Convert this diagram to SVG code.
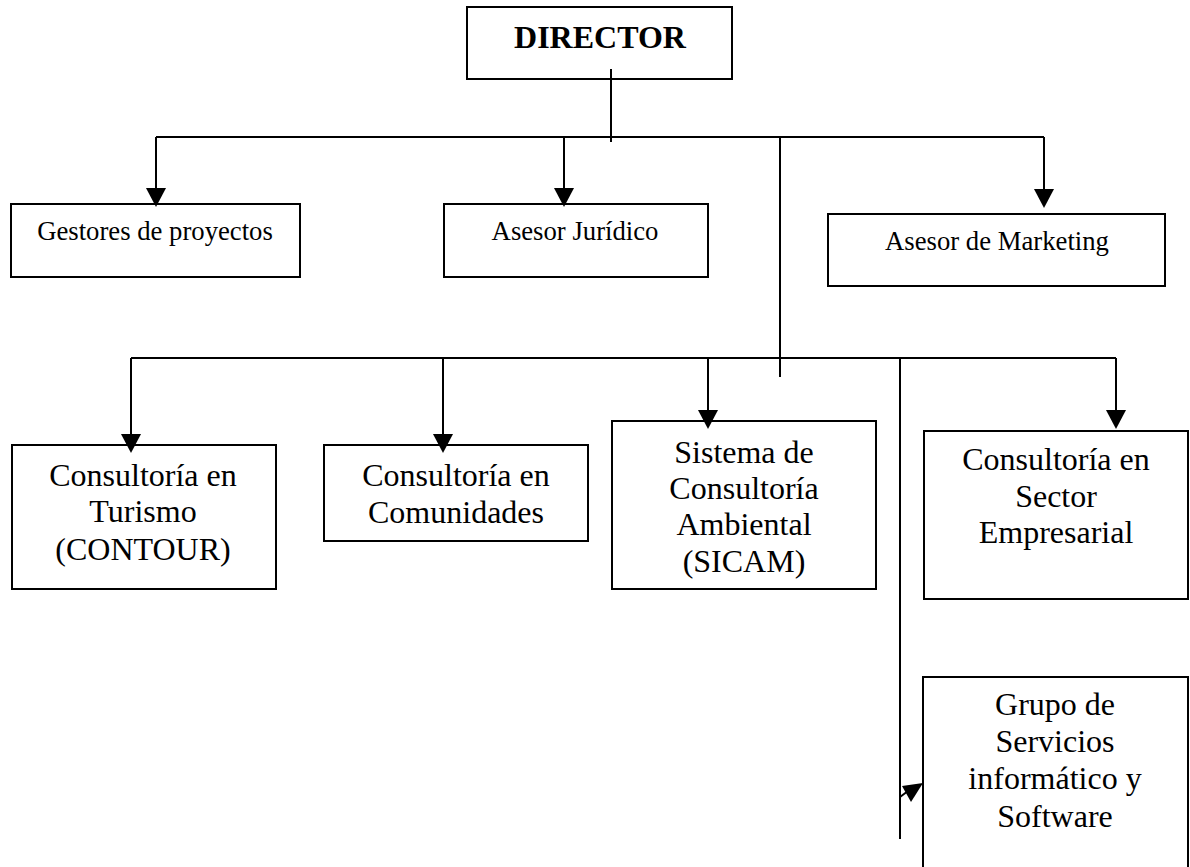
<svg xmlns="http://www.w3.org/2000/svg" width="1190" height="867" viewBox="0 0 1190 867">
<style>
.box{fill:#fff;stroke:#000;stroke-width:2}
.ln{fill:none;stroke:#000;stroke-width:2}
.ah{fill:#000;stroke:none}
text{font-family:"Liberation Serif","Times New Roman",serif;fill:#000;text-anchor:middle}
.big{font-size:32px}
.sm{font-size:26.7px}
.b{font-size:32px;font-weight:bold}
</style>
<rect width="1190" height="867" fill="#fff"/>
<g id="n-director"><rect class="box" x="467" y="7" width="265" height="72"/><text class="b" x="600" y="48">DIRECTOR</text></g>
<g id="n-gestores"><rect class="box" x="11" y="204" width="289" height="73"/><text class="sm" x="155" y="240">Gestores de proyectos</text></g>
<g id="n-juridico"><rect class="box" x="444" y="204" width="264" height="73"/><text class="sm" x="575" y="240">Asesor Jurídico</text></g>
<g id="n-marketing"><rect class="box" x="828" y="214" width="337" height="72"/><text class="sm" x="997" y="250">Asesor de Marketing</text></g>
<g id="n-contour"><rect class="box" x="12" y="445" width="264" height="144"/><text class="big" x="143"><tspan x="143" y="486">Consultoría en</tspan><tspan x="143" y="522">Turismo</tspan><tspan x="143" y="560">(CONTOUR)</tspan></text></g>
<g id="n-comunidades"><rect class="box" x="324" y="445" width="264" height="96"/><text class="big" x="456"><tspan x="456" y="486">Consultoría en</tspan><tspan x="456" y="523">Comunidades</tspan></text></g>
<g id="n-sicam"><rect class="box" x="612" y="421" width="264" height="168"/><text class="big" x="744"><tspan x="744" y="463">Sistema de</tspan><tspan x="744" y="499">Consultoría</tspan><tspan x="744" y="535">Ambiental</tspan><tspan x="744" y="572">(SICAM)</tspan></text></g>
<g id="n-empresarial"><rect class="box" x="924" y="431" width="264" height="168"/><text class="big" x="1056"><tspan x="1056" y="470">Consultoría en</tspan><tspan x="1056" y="507">Sector</tspan><tspan x="1056" y="543">Empresarial</tspan></text></g>
<g id="n-grupo"><rect class="box" x="923" y="677" width="265" height="200"/><text class="big" x="1055"><tspan x="1055" y="715">Grupo de</tspan><tspan x="1055" y="752">Servicios</tspan><tspan x="1055" y="789">informático y</tspan><tspan x="1055" y="827">Software</tspan></text></g>
<g id="connectors">
<line class="ln" x1="611" y1="69" x2="611" y2="142"/>
<line class="ln" x1="156" y1="137" x2="1044" y2="137"/>
<line class="ln" x1="156" y1="137" x2="156" y2="190"/><polygon class="ah" points="146,188 166,188 156,207"/>
<line class="ln" x1="564" y1="137" x2="564" y2="190"/><polygon class="ah" points="554,188 574,188 564,207"/>
<line class="ln" x1="1044" y1="137" x2="1044" y2="190"/><polygon class="ah" points="1034,189 1054,189 1044,208"/>
<line class="ln" x1="780" y1="137" x2="780" y2="377"/>
<line class="ln" x1="131" y1="358" x2="1116" y2="358"/>
<line class="ln" x1="131" y1="358" x2="131" y2="436"/><polygon class="ah" points="121,434 141,434 131,453"/>
<line class="ln" x1="443" y1="358" x2="443" y2="436"/><polygon class="ah" points="433,434 453,434 443,453"/>
<line class="ln" x1="708" y1="358" x2="708" y2="412"/><polygon class="ah" points="698,410 718,410 708,429"/>
<line class="ln" x1="1116" y1="358" x2="1116" y2="412"/><polygon class="ah" points="1106,410 1126,410 1116,429"/>
<line class="ln" x1="900" y1="358" x2="900" y2="839"/>
<line class="ln" x1="900" y1="797" x2="908" y2="791"/><polygon class="ah" points="902,786 923,783 911,802"/>
</g>
</svg>
